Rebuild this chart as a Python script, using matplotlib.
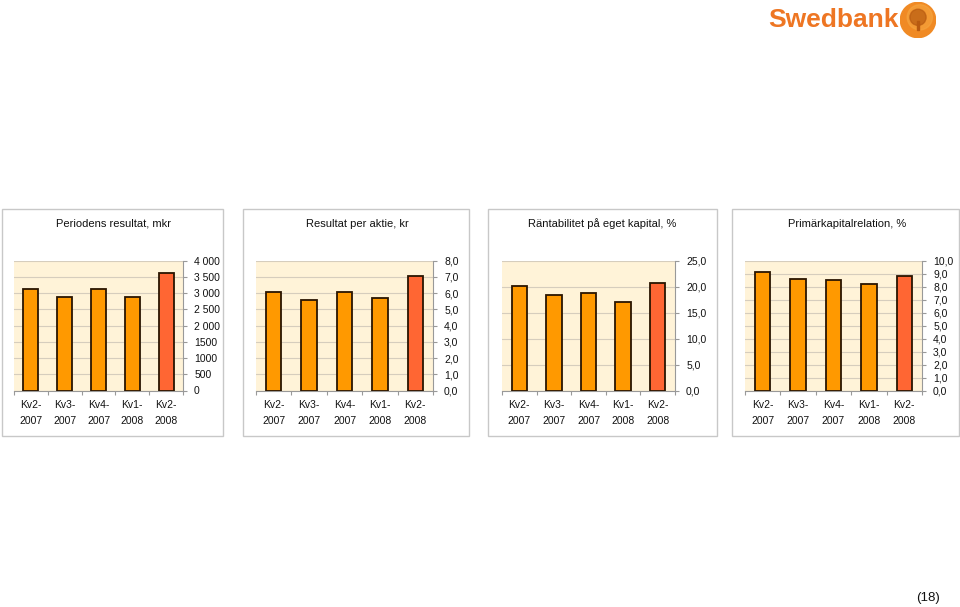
import matplotlib.pyplot as plt
from matplotlib.patches import Rectangle, Circle
import numpy as np

plt.rcParams['font.family'] = ['Liberation Sans', 'DejaVu Sans']

quarters = ["Kv2-\n2007", "Kv3-\n2007", "Kv4-\n2007", "Kv1-\n2008", "Kv2-\n2008"]

resultat = [3130, 2890, 3130, 2890, 3620]
per_aktie = [6.1, 5.6, 6.1, 5.7, 7.05]
rantabilitet = [20.1, 18.3, 18.8, 17.0, 20.8]
primarkapital = [9.1, 8.6, 8.5, 8.2, 8.8]

titles = ["Periodens resultat, mkr", "Resultat per aktie, kr",
          "Räntabilitet på eget kapital, %", "Primärkapitalrelation, %"]

ticks1 = [0, 500, 1000, 1500, 2000, 2500, 3000, 3500, 4000]
labels1 = ["0", "500", "1000", "1500", "2 000", "2 500", "3 000", "3 500", "4 000"]
ticks2 = np.arange(0, 8.1, 1.0)
ticks3 = np.arange(0, 25.1, 5.0)
ticks4 = np.arange(0, 10.1, 1.0)

W, H = 960, 607
fig = plt.figure(figsize=(W / 100, H / 100), dpi=100)

def px_axes(x0, x1, y0, y1, **kw):
    return fig.add_axes([x0 / W, 1 - y1 / H, (x1 - x0) / W, (y1 - y0) / H], **kw)

# panel boxes (pixel coords)
boxes = [(2, 223), (243, 469), (488, 717), (732, 959)]
plots = [(14, 183), (256, 433), (502, 675), (745, 922)]
title_x = [113, 357, 602, 847]

data = [resultat, per_aktie, rantabilitet, primarkapital]
yticks = [ticks1, ticks2, ticks3, ticks4]
ylabels = [labels1,
           [f"{t:.1f}".replace(".", ",") for t in ticks2],
           [f"{t:.1f}".replace(".", ",") for t in ticks3],
           [f"{t:.1f}".replace(".", ",") for t in ticks4]]

for i in range(4):
    bx0, bx1 = boxes[i]
    fig.patches.append(Rectangle((bx0 / W, 1 - 436 / H), (bx1 - bx0) / W, (436 - 209) / H,
                                 transform=fig.transFigure, fill=False,
                                 edgecolor="#c8c8c8", linewidth=1.0))
    fig.text(title_x[i] / W, 1 - 224 / H, titles[i], ha="center", va="center",
             fontsize=8, color="#111111")

    px0, px1 = plots[i]
    ax = px_axes(px0, px1, 260.7, 390.5)
    ax.set_facecolor("#fff3d8")
    vals = data[i]
    colors = ["#ff9900"] * 4 + ["#ff6633"]
    x = np.arange(len(vals))
    ax.bar(x, vals, width=0.44, color=colors, edgecolor="#2a1500", linewidth=1.3, zorder=3)
    ax.set_xlim(-0.5, len(vals) - 0.5)
    ax.set_ylim(yticks[i][0], yticks[i][-1])
    ax.set_yticks(yticks[i])
    ax.set_yticklabels(ylabels[i])
    ax.yaxis.tick_right()
    ax.yaxis.grid(True, color="#d6cdbd", linewidth=0.8, zorder=1)
    ax.set_axisbelow(True)
    for s in ["left", "top"]:
        ax.spines[s].set_visible(False)
    ax.spines["right"].set_color("#999999")
    ax.spines["bottom"].set_color("#999999")
    ax.tick_params(axis="y", direction="out", length=3, color="#999999",
                   labelsize=7.5, pad=5, labelcolor="#111111")
    # category boundary ticks on x axis
    ax.set_xticks(np.arange(-0.5, len(vals), 1.0))
    ax.set_xticklabels([])
    ax.set_xticks(x, minor=True)
    ax.set_xticklabels(quarters, minor=True, fontsize=7.5, color="#111111", linespacing=1.75)
    ax.tick_params(axis="x", which="major", direction="out", length=3, color="#999999")
    ax.tick_params(axis="x", which="minor", length=0, pad=7)

# Swedbank logo
fig.text(768 / W, 1 - 20 / H, "Swedbank", ha="left", va="center", fontsize=19,
         fontweight="bold", color="#ee7623")
lax = px_axes(899, 937, 2, 38)
lax.set_xlim(-1, 1)
lax.set_ylim(-1, 1)
lax.set_aspect("equal")
lax.axis("off")
lax.add_patch(Circle((0, 0), 0.98, color="#f08a24"))
lax.add_patch(Circle((0.1, 0.15), 0.7, color="#f6a640", alpha=0.6))
lax.add_patch(Circle((0, 0.15), 0.45, color="#b85a10", alpha=0.7))
lax.add_patch(Rectangle((-0.06, -0.55), 0.12, 0.5, color="#b85a10"))

fig.text(928 / W, 1 - 598 / H, "(18)", ha="center", va="center", fontsize=9.5, color="#111111")

fig.savefig("out.png", dpi=100, facecolor="white")
